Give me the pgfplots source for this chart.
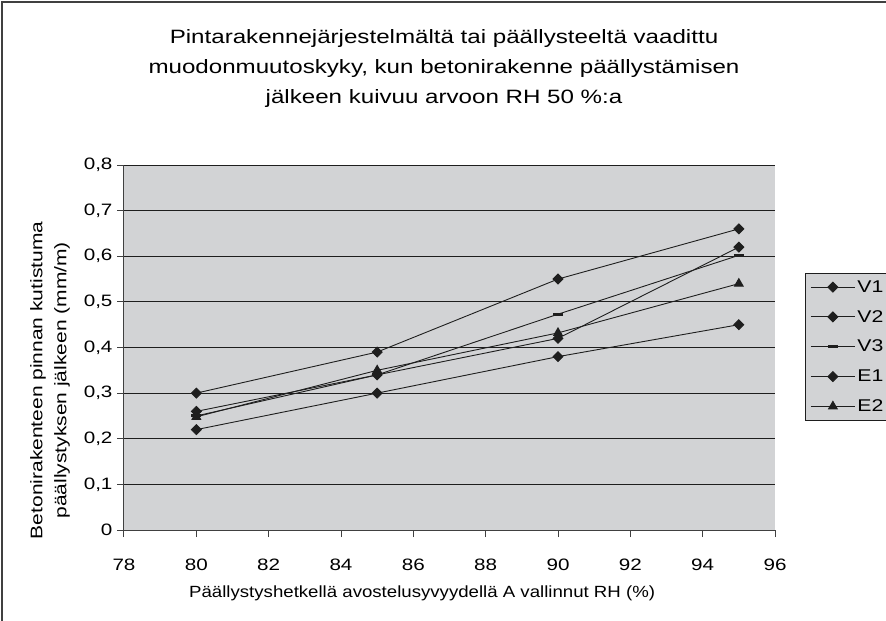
\documentclass[border=0pt]{standalone}
\usepackage{fontspec}
\setmainfont{Liberation Sans}
\newfontfamily\tfont{Liberation Sans}[FakeStretch=1.25]
\newfontfamily\lfont{Liberation Sans}[FakeStretch=1.15]
\usepackage{pgfplots}
\pgfplotsset{compat=1.18}
\definecolor{plotbg}{RGB}{210,211,213}
\definecolor{ln}{RGB}{30,30,30}
\begin{document}
\begin{tikzpicture}[x=1pt,y=1pt]
\useasboundingbox (-124,-91) rectangle (762,530);
\fill[white] (-124,-91) rectangle (762,530);
\draw[line width=1.2pt, color=ln!85] (-122,-91) -- (-122,528) -- (762,528);
\begin{axis}[
  at={(0,0)}, anchor=south west,
  scale only axis, width=651pt, height=365pt,
  xmin=78, xmax=96, ymin=0, ymax=0.8,
  xtick={78,80,...,96}, ytick={0,0.1,0.2,0.3,0.4,0.5,0.6,0.7,0.8},
  axis x line=bottom, axis y line=left,
  axis line style={-, color=ln!85, line width=1pt},
  tick align=outside, major tick length=7pt,
  tick style={color=ln!85, line width=1pt},
  ymajorgrids, grid style={ln, line width=1pt},
  axis background/.style={fill=plotbg},
  /pgf/number format/.cd, use comma, fixed, precision=1, assume math mode=true,
  /pgfplots/.cd,
  ticklabel style={font=\tfont\fontsize{16.5}{18}\selectfont},
  xticklabel style={yshift=-18pt},
  yticklabel style={xshift=-1pt},
  title={Pintarakennejärjestelmältä tai päällysteeltä vaadittu\\muodonmuutoskyky, kun betonirakenne päällystämisen\\jälkeen kuivuu arvoon RH 50 \%:a},
  title style={at={(rel axis cs:0.4916,1)}, anchor=center, yshift=90pt, align=center, font=\tfont\fontsize{19.3}{30}\selectfont},
  xlabel={Päällystyshetkellä avostelusyvyydellä A vallinnut RH (\%)},
  xlabel style={at={(rel axis cs:0.458,0)}, anchor=center, yshift=-63pt, font=\lfont\fontsize{16.2}{20}\selectfont},
  ylabel={Betonirakenteen pinnan kutistuma\\päällystyksen jälkeen (mm/m)},
  ylabel style={at={(rel axis cs:-0.1137,0.41)}, anchor=center, align=center, font=\tfont\fontsize{16.8}{24}\selectfont},
  legend style={at={(rel axis cs:1.046,0.704)}, anchor=north west, fill=plotbg, draw=ln, line width=1pt,
    font=\tfont\fontsize{17}{18}\selectfont, row sep=12.5pt, inner sep=5pt},
  legend cell align=left,
  legend image code/.code={\draw[#1, mark repeat=2, mark phase=2] plot coordinates {(0pt,0pt) (22pt,0pt) (44pt,0pt)};},
]
\addplot[ln, line width=0.9pt, mark=square*, mark size=3.5pt, mark options={rotate=45, solid}]
  coordinates {(80,0.30) (85,0.39) (90,0.55) (95,0.66)};
\addlegendentry{V1}
\addplot[ln, line width=0.9pt, mark=square*, mark size=3.5pt, mark options={rotate=45, solid}]
  coordinates {(80,0.26) (85,0.34) (90,0.42) (95,0.62)};
\addlegendentry{V2}
\addplot[ln, line width=0.9pt, mark=-, mark size=5pt, mark options={line width=3pt, solid}]
  coordinates {(80,0.25) (85,0.34) (90,0.473) (95,0.602)};
\addlegendentry{V3}
\addplot[ln, line width=0.9pt, mark=square*, mark size=3.5pt, mark options={rotate=45, solid}]
  coordinates {(80,0.22) (85,0.30) (90,0.38) (95,0.45)};
\addlegendentry{E1}
\addplot[ln, line width=0.9pt, mark=triangle*, mark size=5pt, mark options={solid}]
  coordinates {(80,0.248) (85,0.35) (90,0.432) (95,0.54)};
\addlegendentry{E2}
\end{axis}
\end{tikzpicture}
\end{document}
